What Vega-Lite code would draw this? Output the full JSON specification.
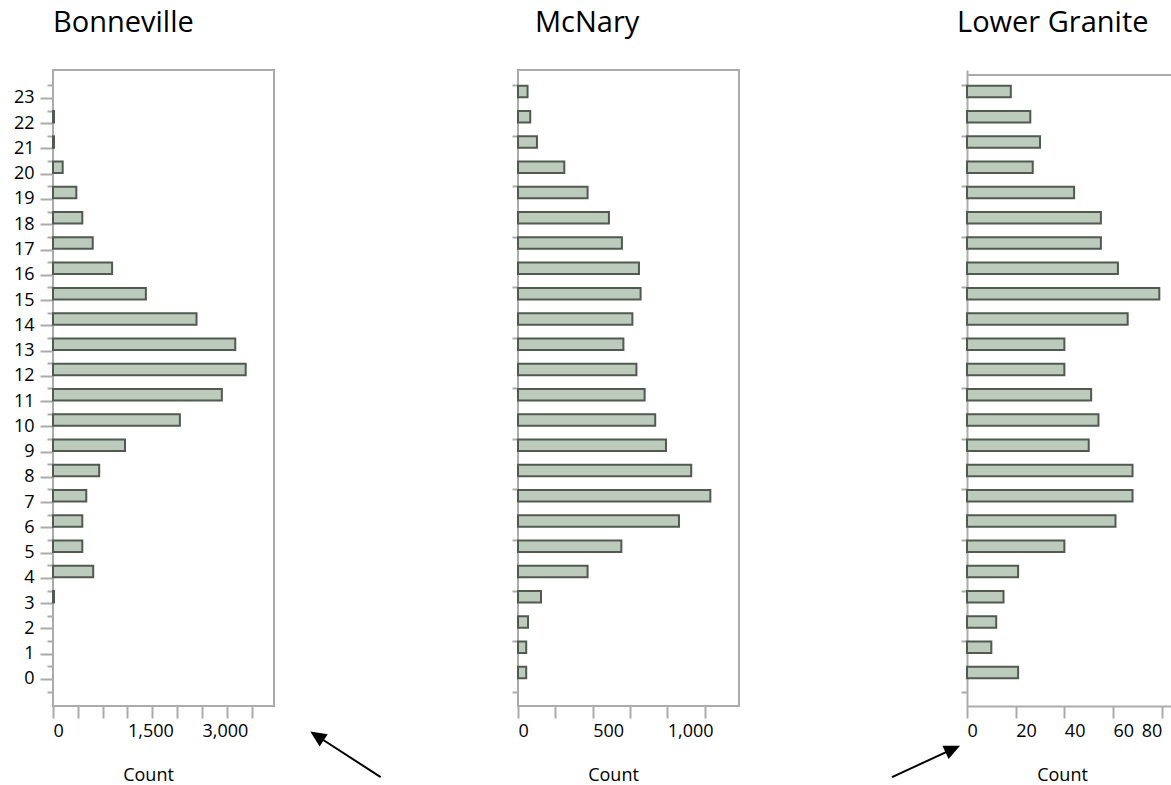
{
  "$schema": "https://vega.github.io/schema/vega-lite/v6.json",
  "padding": {"left": 5, "top": 8, "right": 0, "bottom": 0},
  "autosize": {"type": "pad"},
  "spacing": 10,
  "config": {
    "font": "Open Sans",
    "view": {"stroke": "#ababab", "strokeWidth": 2},
    "title": {"frame": "group"},
    "axis": {
      "grid": false, "domain": false, "tickColor": "#ababab", "tickWidth": 2,
      "labelFontSize": 18, "labelColor": "#000000", "labelFont": "Open Sans",
      "titleFontSize": 18, "titleFontWeight": "normal", "titleColor": "#000000", "titleFont": "Open Sans",
      "labelOverlap": false, "labelFlush": false, "labelBound": false
    }
  },
  "datasets": {
    "hours": [
      {"dam": "Bonneville", "hour": 0, "count": 0},
      {"dam": "Bonneville", "hour": 1, "count": 0},
      {"dam": "Bonneville", "hour": 2, "count": 0},
      {"dam": "Bonneville", "hour": 3, "count": 20},
      {"dam": "Bonneville", "hour": 4, "count": 810},
      {"dam": "Bonneville", "hour": 5, "count": 590},
      {"dam": "Bonneville", "hour": 6, "count": 590},
      {"dam": "Bonneville", "hour": 7, "count": 670},
      {"dam": "Bonneville", "hour": 8, "count": 930},
      {"dam": "Bonneville", "hour": 9, "count": 1450},
      {"dam": "Bonneville", "hour": 10, "count": 2555},
      {"dam": "Bonneville", "hour": 11, "count": 3400},
      {"dam": "Bonneville", "hour": 12, "count": 3880},
      {"dam": "Bonneville", "hour": 13, "count": 3670},
      {"dam": "Bonneville", "hour": 14, "count": 2890},
      {"dam": "Bonneville", "hour": 15, "count": 1870},
      {"dam": "Bonneville", "hour": 16, "count": 1190},
      {"dam": "Bonneville", "hour": 17, "count": 800},
      {"dam": "Bonneville", "hour": 18, "count": 590},
      {"dam": "Bonneville", "hour": 19, "count": 470},
      {"dam": "Bonneville", "hour": 20, "count": 195},
      {"dam": "Bonneville", "hour": 21, "count": 20},
      {"dam": "Bonneville", "hour": 22, "count": 20},
      {"dam": "Bonneville", "hour": 23, "count": 0},
      {"dam": "McNary", "hour": 0, "count": 55},
      {"dam": "McNary", "hour": 1, "count": 55},
      {"dam": "McNary", "hour": 2, "count": 67},
      {"dam": "McNary", "hour": 3, "count": 154},
      {"dam": "McNary", "hour": 4, "count": 466},
      {"dam": "McNary", "hour": 5, "count": 692},
      {"dam": "McNary", "hour": 6, "count": 1078},
      {"dam": "McNary", "hour": 7, "count": 1288},
      {"dam": "McNary", "hour": 8, "count": 1160},
      {"dam": "McNary", "hour": 9, "count": 991},
      {"dam": "McNary", "hour": 10, "count": 919},
      {"dam": "McNary", "hour": 11, "count": 848},
      {"dam": "McNary", "hour": 12, "count": 793},
      {"dam": "McNary", "hour": 13, "count": 706},
      {"dam": "McNary", "hour": 14, "count": 766},
      {"dam": "McNary", "hour": 15, "count": 821},
      {"dam": "McNary", "hour": 16, "count": 810},
      {"dam": "McNary", "hour": 17, "count": 696},
      {"dam": "McNary", "hour": 18, "count": 609},
      {"dam": "McNary", "hour": 19, "count": 466},
      {"dam": "McNary", "hour": 20, "count": 310},
      {"dam": "McNary", "hour": 21, "count": 127},
      {"dam": "McNary", "hour": 22, "count": 82},
      {"dam": "McNary", "hour": 23, "count": 64},
      {"dam": "Lower Granite", "hour": 0, "count": 21},
      {"dam": "Lower Granite", "hour": 1, "count": 10},
      {"dam": "Lower Granite", "hour": 2, "count": 12},
      {"dam": "Lower Granite", "hour": 3, "count": 15},
      {"dam": "Lower Granite", "hour": 4, "count": 21},
      {"dam": "Lower Granite", "hour": 5, "count": 40},
      {"dam": "Lower Granite", "hour": 6, "count": 61},
      {"dam": "Lower Granite", "hour": 7, "count": 68},
      {"dam": "Lower Granite", "hour": 8, "count": 68},
      {"dam": "Lower Granite", "hour": 9, "count": 50},
      {"dam": "Lower Granite", "hour": 10, "count": 54},
      {"dam": "Lower Granite", "hour": 11, "count": 51},
      {"dam": "Lower Granite", "hour": 12, "count": 40},
      {"dam": "Lower Granite", "hour": 13, "count": 40},
      {"dam": "Lower Granite", "hour": 14, "count": 66},
      {"dam": "Lower Granite", "hour": 15, "count": 79},
      {"dam": "Lower Granite", "hour": 16, "count": 62},
      {"dam": "Lower Granite", "hour": 17, "count": 55},
      {"dam": "Lower Granite", "hour": 18, "count": 55},
      {"dam": "Lower Granite", "hour": 19, "count": 44},
      {"dam": "Lower Granite", "hour": 20, "count": 27},
      {"dam": "Lower Granite", "hour": 21, "count": 30},
      {"dam": "Lower Granite", "hour": 22, "count": 26},
      {"dam": "Lower Granite", "hour": 23, "count": 18}
    ]
  },
  "hconcat": [
    {
      "width": 221,
      "height": 636,
      "title": {"text": "Bonneville", "anchor": "start", "frame": "group", "dx": 0, "offset": 9, "baseline": "alphabetic", "fontSize": 29, "fontWeight": "normal", "color": "#000000"},
      "data": {"name": "hours"},
      "transform": [{"filter": "datum.dam === 'Bonneville' && datum.count > 0"}],
      "mark": {"type": "bar", "orient": "horizontal", "height": 11.5, "yOffset": -6.4, "fill": "#bccbbc", "stroke": "#505a50", "strokeWidth": 2},
      "encoding": {
        "y": {
          "field": "hour", "type": "quantitative",
          "scale": {"domain": [-0.873, 23.908], "nice": false, "zero": false},
          "axis": {
            "values": [-0.5,0,0.5,1,1.5,2,2.5,3,3.5,4,4.5,5,5.5,6,6.5,7,7.5,8,8.5,9,9.5,10,10.5,11,11.5,12,12.5,13,13.5,14,14.5,15,15.5,16,16.5,17,17.5,18,18.5,19,19.5,20,20.5,21,21.5,22,22.5,23,23.5],
            "labelExpr": "datum.value % 1 === 0 ? format(datum.value, 'd') : ''",
            "tickSize": {"condition": {"test": "datum.value % 1 === 0", "value": 13}, "value": 6},
            "labelPadding": 6, "title": null, "minExtent": 47, "maxExtent": 47
          }
        },
        "x": {
          "field": "count", "type": "quantitative",
          "scale": {"domain": [0, 4450], "nice": false},
          "axis": {
            "values": [0,500,1000,1500,2000,2500,3000,3500,4000],
            "labelExpr": "indexof([0,1500,3000], datum.value) >= 0 ? format(datum.value, ',') : ''",
            "tickSize": 12, "labelAlign": "left", "labelPadding": 4,
            "title": "Count", "titleX": 95, "titleY": 74, "titleBaseline": "alphabetic", "titleAlign": "center"
          }
        }
      }
    },
    {
      "width": 221,
      "height": 636,
      "title": {"text": "McNary", "anchor": "start", "frame": "group", "dx": 17, "offset": 9, "baseline": "alphabetic", "fontSize": 29, "fontWeight": "normal", "color": "#000000"},
      "layer": [
        {
          "data": {"name": "hours"},
          "transform": [{"filter": "datum.dam === 'McNary' && datum.count > 0"}],
          "mark": {"type": "bar", "orient": "horizontal", "height": 11.5, "yOffset": -6.4, "fill": "#bccbbc", "stroke": "#505a50", "strokeWidth": 2},
          "encoding": {
            "y": {
              "field": "hour", "type": "quantitative",
              "scale": {"domain": [-0.873, 23.908], "nice": false, "zero": false},
              "axis": {
                "values": [-0.5,0,0.5,1,1.5,2,2.5,3,3.5,4,4.5,5,5.5,6,6.5,7,7.5,8,8.5,9,9.5,10,10.5,11,11.5,12,12.5,13,13.5,14,14.5,15,15.5,16,16.5,17,17.5,18,18.5,19,19.5,20,20.5,21,21.5,22,22.5,23,23.5],
                "labelExpr": "datum.value % 1 === 0 ? format(datum.value, 'd') : ''",
                "tickSize": {"condition": {"test": "datum.value % 1 === 0", "value": 13}, "value": 6},
                "labelPadding": 6, "title": null, "minExtent": 232, "maxExtent": 232
              }
            },
            "x": {
              "field": "count", "type": "quantitative",
              "scale": {"domain": [0, 1480], "nice": false},
              "axis": {
                "values": [0,250,500,750,1000,1250],
                "labelExpr": "indexof([0,500,1000], datum.value) >= 0 ? format(datum.value, ',') : ''",
                "tickSize": 12, "labelAlign": "left", "labelPadding": 4,
                "title": "Count", "titleX": 95, "titleY": 74, "titleBaseline": "alphabetic", "titleAlign": "center"
              }
            }
          }
        },
        {
          "data": {"values": [{}]},
          "mark": {"type": "rule", "color": "#000000", "strokeWidth": 2, "clip": false},
          "encoding": {
            "x": {"datum": -1335},
            "y": {"datum": -2.297},
            "x2": {"datum": -919.5},
            "y2": {"datum": -3.887}
          }
        },
        {
          "data": {"values": [{}]},
          "mark": {"type": "point", "shape": "M0,0L0.92,2L-0.92,2Z", "filled": true, "color": "#000000", "opacity": 1, "size": 256, "angle": 303.3, "clip": false},
          "encoding": {
            "x": {"datum": -1391},
            "y": {"datum": -2.082}
          }
        }
      ]
    },
    {
      "width": 204,
      "height": 636,
      "view": {"stroke": null},
      "title": {"text": "Lower Granite", "anchor": "start", "frame": "group", "dx": -10, "offset": 9, "baseline": "alphabetic", "fontSize": 29, "fontWeight": "normal", "color": "#000000"},
      "layer": [
        {
          "data": {"name": "hours"},
          "transform": [{"filter": "datum.dam === 'Lower Granite' && datum.count > 0"}],
          "mark": {"type": "bar", "orient": "horizontal", "height": 11.5, "yOffset": -6.4, "fill": "#bccbbc", "stroke": "#505a50", "strokeWidth": 2},
          "encoding": {
            "y": {
              "field": "hour", "type": "quantitative",
              "scale": {"domain": [-0.873, 23.908], "nice": false, "zero": false},
              "axis": {
                "values": [-0.5,0,0.5,1,1.5,2,2.5,3,3.5,4,4.5,5,5.5,6,6.5,7,7.5,8,8.5,9,9.5,10,10.5,11,11.5,12,12.5,13,13.5,14,14.5,15,15.5,16,16.5,17,17.5,18,18.5,19,19.5,20,20.5,21,21.5,22,22.5,23,23.5],
                "labelExpr": "datum.value % 1 === 0 ? format(datum.value, 'd') : ''",
                "tickSize": {"condition": {"test": "datum.value % 1 === 0", "value": 13}, "value": 6},
                "labelPadding": 6, "title": null, "minExtent": 217, "maxExtent": 217,
                "domain": true, "domainColor": "#ababab", "domainWidth": 2
              }
            },
            "x": {
              "field": "count", "type": "quantitative",
              "scale": {"domain": [0, 83.8], "nice": false},
              "axis": {
                "values": [0,10,20,30,40,50,60,70,80],
                "labelExpr": "indexof([0,20,40,60,80], datum.value) >= 0 ? format(datum.value, ',') : ''",
                "tickSize": 12, "labelPadding": 4,
                "labelAlign": {"condition": {"test": "datum.value >= 80", "value": "right"}, "value": "left"},
                "domain": true, "domainColor": "#ababab", "domainWidth": 2,
                "title": "Count", "titleX": 95, "titleY": 74, "titleBaseline": "alphabetic", "titleAlign": "center"
              }
            }
          }
        },
        {
          "data": {"values": [{}]},
          "mark": {"type": "rule", "color": "#ababab", "strokeWidth": 2, "clip": false},
          "encoding": {
            "x": {"datum": 0},
            "y": {"datum": 23.908},
            "x2": {"datum": 83.8}
          }
        },
        {
          "data": {"values": [{}]},
          "mark": {"type": "rule", "color": "#000000", "strokeWidth": 2, "clip": false},
          "encoding": {
            "x": {"datum": -6.57},
            "y": {"datum": -2.807},
            "x2": {"datum": -30.8},
            "y2": {"datum": -3.887}
          }
        },
        {
          "data": {"values": [{}]},
          "mark": {"type": "point", "shape": "M0,0L0.92,2L-0.92,2Z", "filled": true, "color": "#000000", "opacity": 1, "size": 256, "angle": 64.8, "clip": false},
          "encoding": {
            "x": {"datum": -2.875},
            "y": {"datum": -2.64}
          }
        }
      ]
    }
  ]
}
